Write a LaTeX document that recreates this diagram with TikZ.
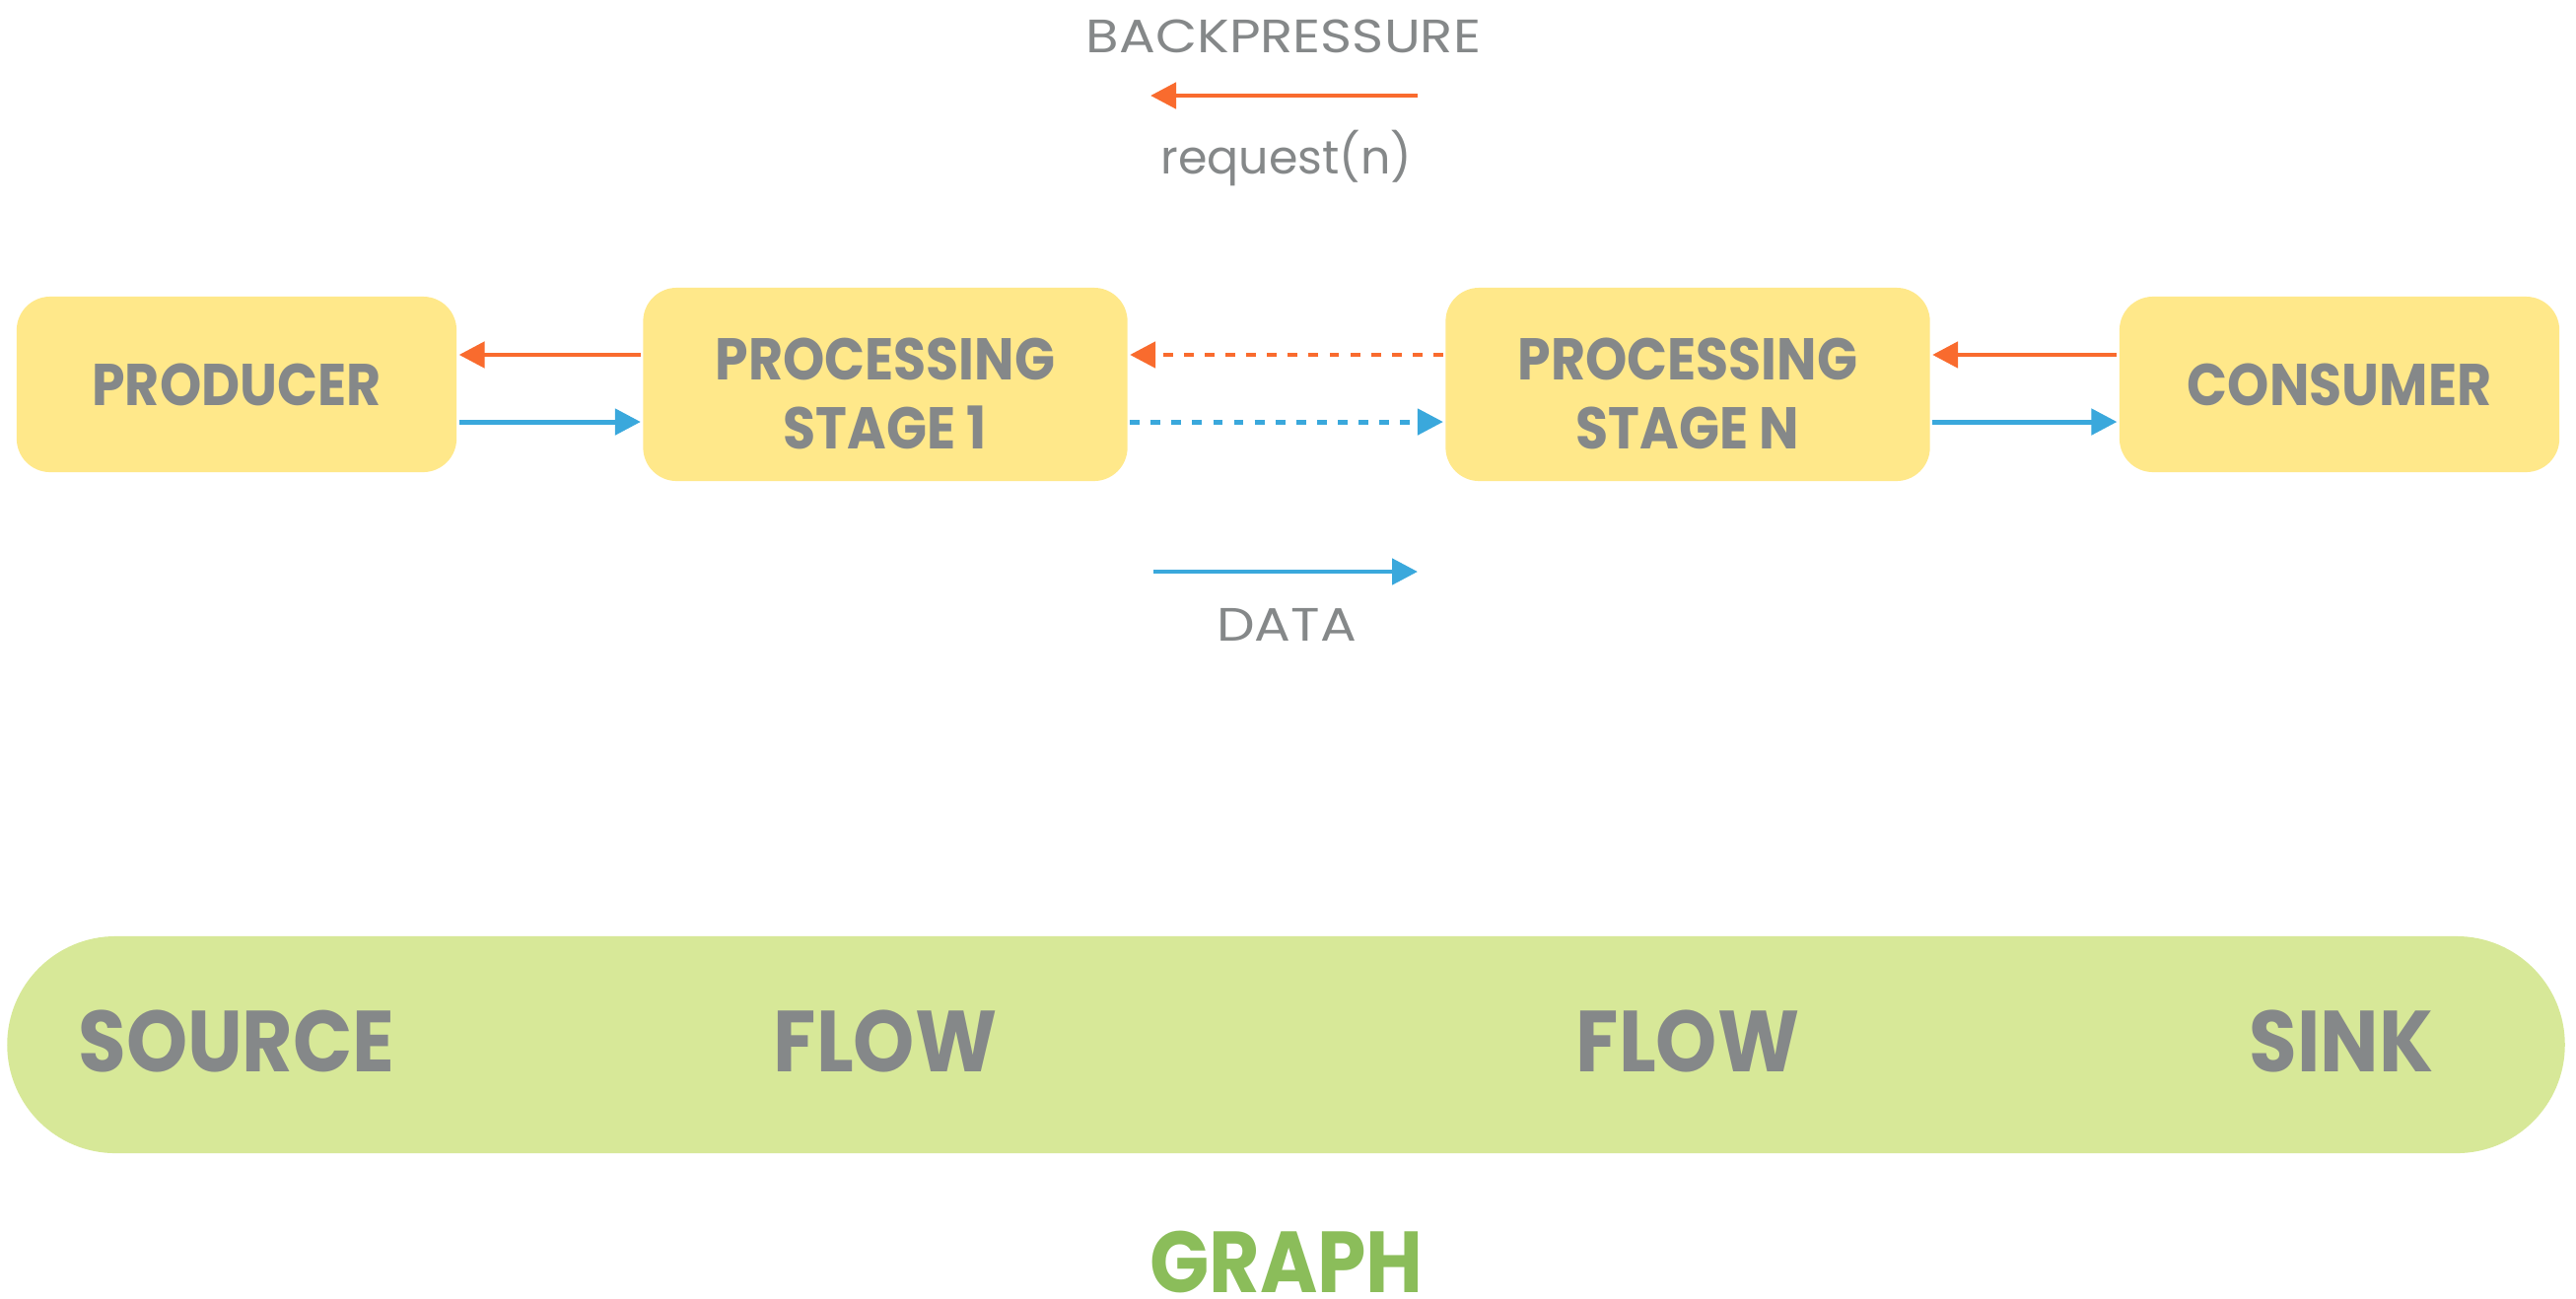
\documentclass[tikz,border=0pt]{standalone}
\usepackage{fontspec}
\setmainfont{Poppins}
\newfontfamily\narrowfont{Poppins}[FakeStretch=0.9]
\newfontfamily\widefont{Poppins}[FakeStretch=1.15]
\usetikzlibrary{arrows.meta,positioning}
\definecolor{boxyellow}{HTML}{FFE88A}
\definecolor{bargreen}{HTML}{D7E898}
\definecolor{textgray}{HTML}{858889}
\definecolor{reqorange}{HTML}{F96B2E}
\definecolor{datablue}{HTML}{3AA8DC}
\definecolor{graphgreen}{HTML}{8BBD5A}
\newcommand{\toppad}{\rule{0pt}{0.62cm}}

\begin{document}
\begin{tikzpicture}[x=0.01cm,y=-0.01cm,line width=1.4pt,>={Triangle[length=0.26cm,width=0.26cm]}]
    \tikzstyle{stagebox}=[rounded corners=0.34cm, fill=boxyellow, text=textgray, align=center,
      font=\narrowfont\bfseries\fontsize{17}{20}\selectfont, minimum width=4.91cm, minimum height=1.96cm]
    \tikzstyle{endbox}=[stagebox, minimum width=4.46cm, minimum height=1.78cm]
    \tikzstyle{req}=[->, reqorange]
    \tikzstyle{dat}=[->, datablue]
    \tikzstyle{far}=[dash pattern=on 2.8pt off 3.2pt]
    \tikzstyle{legend}=[text=textgray, font=\fontsize{13.5}{16}\selectfont]
    \tikzstyle{legendcaps}=[legend, font=\widefont\fontsize{13.5}{16}\selectfont]
    \tikzstyle{part}=[text=textgray, inner sep=0pt, font=\narrowfont\bfseries\fontsize{25}{28}\selectfont]

    \useasboundingbox (0,0) rectangle (2613,1317);

    % pipeline
    \node[endbox]   (producer) at (240,390)  {PRODUCER};
    \node[stagebox] (stage1)   at (898,390)  {\toppad PROCESSING\\STAGE 1};
    \node[stagebox] (stageN)   at (1712,390) {\toppad PROCESSING\\STAGE N};
    \node[endbox]   (consumer) at (2373,390) {CONSUMER};

    \draw[req] ([yshift=0.3cm]stage1.west) -- ([yshift=0.3cm]producer.east);
    \draw[dat] ([yshift=-0.38cm]producer.east) -- ([yshift=-0.38cm]stage1.west);
    \draw[req,far] ([yshift=0.3cm]stageN.west) -- ([yshift=0.3cm]stage1.east);
    \draw[dat,far] ([yshift=-0.38cm]stage1.east) -- ([yshift=-0.38cm]stageN.west);
    \draw[req] ([yshift=0.3cm]consumer.west) -- ([yshift=0.3cm]stageN.east);
    \draw[dat] ([yshift=-0.38cm]stageN.east) -- ([yshift=-0.38cm]consumer.west);

    % legend
    \node[legendcaps] (backpressure) at (1302,37) {BACKPRESSURE};
    \coordinate (reqfrom) at (1438,97);
    \coordinate (reqto)   at (1167,97);
    \draw[req] (reqfrom) -- (reqto);
    \node[legend] (request) at (1305,160) {request(n)};
    \coordinate (datfrom) at (1170,580);
    \coordinate (datto)   at (1438,580);
    \draw[dat] (datfrom) -- (datto);
    \node[legendcaps] (data) at (1305,634) {DATA};

    % graph
    \node[rounded corners=1.1cm, fill=bargreen, minimum width=25.93cm, minimum height=2.2cm] (graph) at (1304.5,1060) {};
    \node[part] (source) at (240,1056)  {SOURCE};
    \node[part] (flow1)  at (898,1056)  {FLOW};
    \node[part] (flow2)  at (1712,1056) {FLOW};
    \node[part] (sink)   at (2375,1056) {SINK};
    \node[part, text=graphgreen] (graphlabel) at (1305,1280) {GRAPH};

\end{tikzpicture}
\end{document}
